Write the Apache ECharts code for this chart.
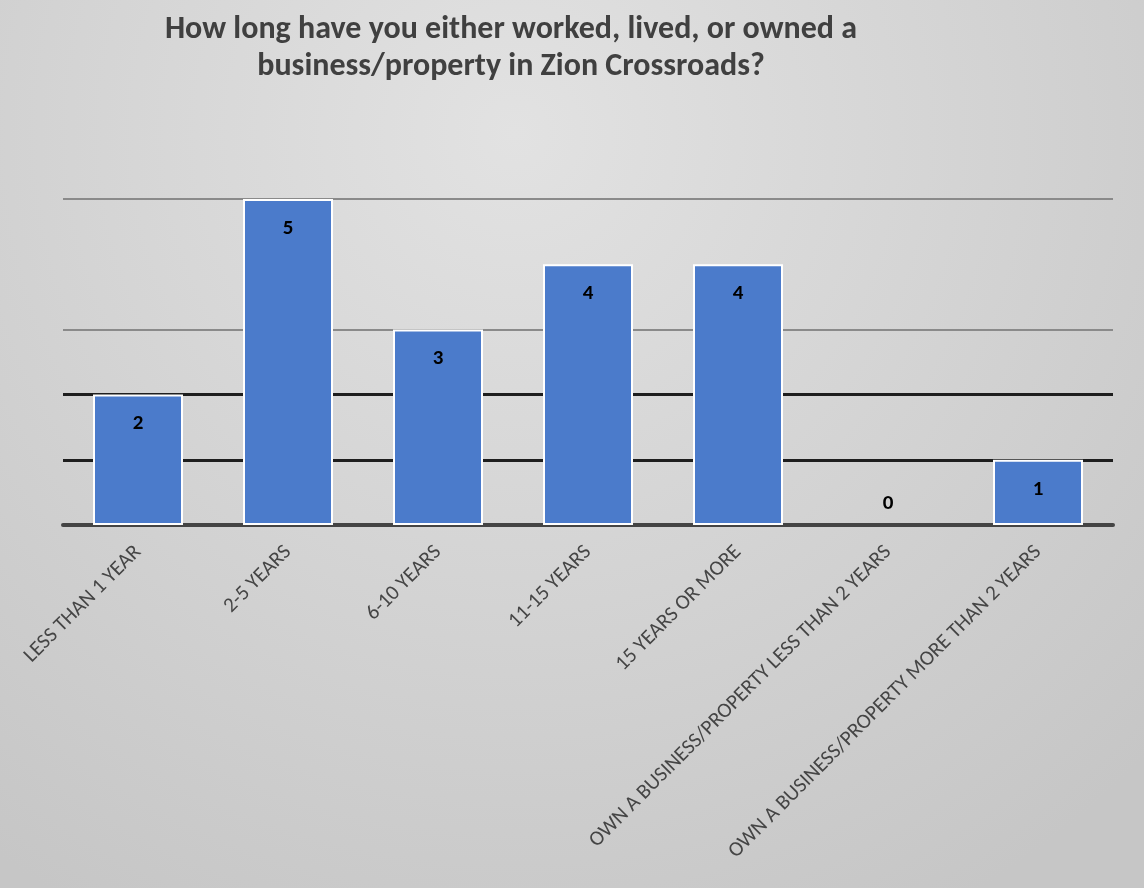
<!DOCTYPE html>
<html>
<head>
<meta charset="utf-8">
<style>html,body{margin:0;padding:0;background:#d6d6d6;}#chart{width:1144px;height:888px;}</style>
<script src="https://cdn.jsdelivr.net/npm/echarts@6/dist/echarts.min.js"></script>
</head>
<body>
<div id="chart"></div>
<script>
const categories = ['LESS THAN 1 YEAR', '2-5 YEARS', '6-10 YEARS', '11-15 YEARS', '15 YEARS OR MORE', 'OWN A BUSINESS/PROPERTY LESS THAN 2 YEARS', 'OWN A BUSINESS/PROPERTY MORE THAN 2 YEARS'];
const values = [2, 5, 3, 4, 4, 0, 1];
const darkGridValues = [1, 2];
const lightGridValues = [3, 5];
const titleText = 'How long have you either worked, lived, or owned a\nbusiness/property in Zion Crossroads?';

const font = 'Carlito, "Liberation Sans Narrow", Lato, sans-serif';
const chart = echarts.init(document.getElementById('chart'));
const markData = darkGridValues.map(v => ({ yAxis: v, lineStyle: { color: '#1e1e1e', width: 3, type: 'solid' } }))
  .concat(lightGridValues.map(v => ({ yAxis: v, lineStyle: { color: '#8a8a8a', width: 2, type: 'solid' } })));
chart.setOption({
  animation: false,
  backgroundColor: {
    type: 'radial', x: 0.45, y: 0.15, r: 1.0,
    colorStops: [{ offset: 0, color: '#e2e2e2' }, { offset: 1, color: '#c6c6c6' }]
  },
  title: {
    text: titleText,
    left: 506, top: 6, textAlign: 'center',
    textStyle: { fontFamily: font, fontWeight: 'bold', fontSize: 32, color: '#404040', lineHeight: 37 }
  },
  grid: { left: 63, right: 31, top: 199, bottom: 363 },
  xAxis: {
    type: 'category', data: categories,
    axisLine: { lineStyle: { color: '#444', width: 4 } },
    axisTick: { show: false },
    axisLabel: { rotate: 45, margin: 24, fontFamily: font, fontSize: 21, color: '#454545' }
  },
  yAxis: {
    type: 'value', min: 0, max: 5, interval: 1,
    axisLabel: { show: false }, splitLine: { show: false }, axisLine: { show: false }, axisTick: { show: false }
  },
  series: [{
    type: 'bar', z: 2, barWidth: 90,
    data: values.map(v => v === 0
      ? { value: v, itemStyle: { borderWidth: 0 }, label: { position: 'top', distance: 11 } }
      : { value: v }),
    itemStyle: { color: '#4b7bcb', borderColor: '#ffffff', borderWidth: 2 },
    label: { show: true, position: 'insideTop', distance: 19, fontFamily: font, fontWeight: 'bold', fontSize: 21, color: '#000' },
    markLine: { silent: true, z: 1, symbol: 'none', label: { show: false }, data: markData }
  }]
});
</script>
</body>
</html>
